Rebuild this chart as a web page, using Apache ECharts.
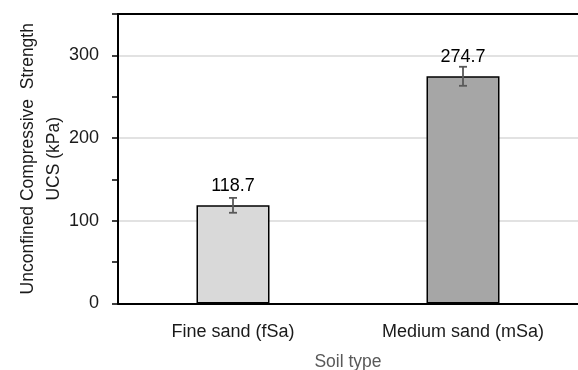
<!DOCTYPE html>
<html><head><meta charset="utf-8">
<script src="https://cdn.jsdelivr.net/npm/echarts@6/dist/echarts.min.js"></script>
<style>html,body{margin:0;padding:0;background:#fff}#c{width:578px;height:370px}</style>
</head><body><div id="c"></div>
<script>
var categories = ['Fine sand (fSa)', 'Medium sand (mSa)'];
var ucsValues = [118.7, 274.7];
var ucsErrors = [9, 11.5];
var barColors = ['#d9d9d9', '#a6a6a6'];
var yTicks = [0, 100, 200, 300];

var FONT = '"Liberation Sans", Arial, sans-serif';
var chart = echarts.init(document.getElementById('c'), null, {renderer: 'canvas'});
chart.setOption({
  animation: false,
  grid: {left: 118, right: 0, top: 14, bottom: 66.5, containLabel: false, outerBoundsMode: 'none'},
  xAxis: [{
    type: 'category', data: categories, position: 'bottom',
    axisLine: {lineStyle: {color: '#000', width: 2}},
    axisTick: {show: false},
    axisLabel: {color: '#1a1a1a', fontSize: 18, fontFamily: FONT, margin: 20},
    name: 'Soil type', nameLocation: 'middle', nameGap: 50, nameMoveOverlap: false,
    nameTextStyle: {color: '#595959', fontSize: 17.5, fontFamily: FONT}
  }, {
    type: 'category', data: categories, position: 'top',
    axisLine: {lineStyle: {color: '#000', width: 2}},
    axisTick: {show: false}, axisLabel: {show: false}
  }],
  yAxis: {
    type: 'value', min: 0, max: 350, interval: 50,
    axisLine: {show: true, lineStyle: {color: '#000', width: 2}},
    axisTick: {show: true, length: 6, lineStyle: {color: '#000', width: 1.5}},
    axisLabel: {color: '#1a1a1a', fontSize: 18, fontFamily: FONT, margin: 19,
      formatter: function (v) { return yTicks.indexOf(v) >= 0 ? String(v) : ''; }},
    splitLine: {show: true, lineStyle: {color: ['#d9d9d9', 'rgba(0,0,0,0)'], width: 1.5}},
    name: 'Unconfined Compressive  Strength\nUCS (kPa)', nameLocation: 'middle', nameGap: 51, nameMoveOverlap: false,
    nameTextStyle: {color: '#1a1a1a', fontSize: 17.5, fontFamily: FONT, lineHeight: 26, align: 'center'}
  },
  series: [{
    type: 'bar', barWidth: 73,
    data: ucsValues.map(function (v, i) {
      return {value: v, itemStyle: {color: barColors[i], borderColor: '#000', borderWidth: 1.5}};
    }),
    label: {show: true, position: 'top', distance: 10, color: '#000', fontSize: 18, fontFamily: FONT,
      formatter: function (p) { return p.value.toFixed(1); }}
  }, {
    type: 'custom',
    data: ucsValues.map(function (v, i) { return [i, v - ucsErrors[i], v + ucsErrors[i]]; }),
    renderItem: function (params, api) {
      var lo = api.coord([api.value(0), api.value(1)]);
      var hi = api.coord([api.value(0), api.value(2)]);
      var hw = 4;
      var st = {stroke: '#595959', lineWidth: 1.8};
      return {type: 'group', children: [
        {type: 'line', shape: {x1: lo[0], y1: lo[1], x2: hi[0], y2: hi[1]}, style: st},
        {type: 'line', shape: {x1: lo[0] - hw, y1: lo[1], x2: lo[0] + hw, y2: lo[1]}, style: st},
        {type: 'line', shape: {x1: hi[0] - hw, y1: hi[1], x2: hi[0] + hw, y2: hi[1]}, style: st}
      ]};
    },
    z: 5
  }]
});
</script></body></html>
